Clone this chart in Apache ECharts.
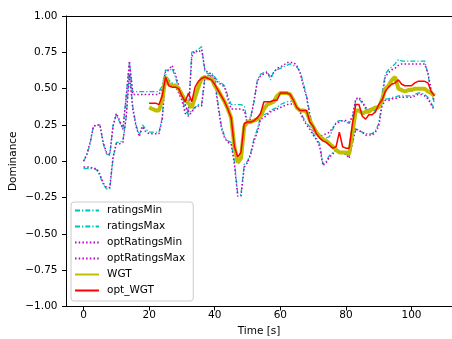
<!DOCTYPE html>
<html>
<head>
<meta charset="utf-8">
<script src="https://cdn.jsdelivr.net/npm/echarts@6.0.0/dist/echarts.min.js"></script>
<style>
  html, body { margin: 0; padding: 0; background: #fff; }
  #chart { width: 452px; height: 339px; }
</style>
</head>
<body>
<div id="chart"></div>
<script>
// one sample per second, 0..107 s
const time = Array.from({ length: 108 }, (_, i) => i);
const wgtStart = 20; // WGT / opt_WGT only start at 20 s

const ratingsMin = [
  -0.05, -0.05, -0.05, -0.05, -0.06, -0.10, -0.16, -0.19, -0.19, 0.02,
  0.13, 0.13, 0.14, 0.30, 0.62, 0.38, 0.25, 0.18, 0.25, 0.22,
  0.20, 0.20, 0.20, 0.20, 0.30, 0.60, 0.56, 0.54, 0.53, 0.48,
  0.44, 0.35, 0.32, 0.35, 0.37, 0.39, 0.39, 0.58, 0.59, 0.59,
  0.57, 0.40, 0.25, 0.17, 0.14, 0.13, 0.00, -0.22, -0.23, -0.02,
  0.00, 0.06, 0.16, 0.22, 0.31, 0.32, 0.33, 0.35, 0.36, 0.37,
  0.39, 0.40, 0.41, 0.41, 0.42, 0.38, 0.35, 0.30, 0.26, 0.24,
  0.19, 0.16, 0.12, -0.02, 0.00, 0.04, 0.06, 0.07, 0.06, 0.05,
  0.05, 0.03, 0.12, 0.23, 0.21, 0.20, 0.19, 0.19, 0.19, 0.21,
  0.26, 0.40, 0.43, 0.43, 0.44, 0.44, 0.45, 0.45, 0.45, 0.45,
  0.45, 0.46, 0.47, 0.47, 0.46, 0.44, 0.40, 0.36
];
const ratingsMax = [
  0.00, 0.04, 0.12, 0.24, 0.25, 0.25, 0.12, 0.05, 0.04, 0.25,
  0.32, 0.27, 0.22, 0.45, 0.68, 0.48, 0.48, 0.48, 0.48, 0.48,
  0.48, 0.48, 0.48, 0.48, 0.52, 0.63, 0.62, 0.64, 0.58, 0.50,
  0.46, 0.38, 0.34, 0.75, 0.76, 0.77, 0.79, 0.62, 0.60, 0.61,
  0.58, 0.55, 0.54, 0.52, 0.45, 0.39, 0.39, 0.39, 0.39, 0.38,
  0.27, 0.31, 0.41, 0.56, 0.60, 0.61, 0.62, 0.56, 0.62, 0.63,
  0.64, 0.65, 0.66, 0.67, 0.66, 0.65, 0.62, 0.54, 0.45, 0.33,
  0.22, 0.19, 0.17, 0.16, 0.16, 0.17, 0.22, 0.27, 0.28, 0.28,
  0.27, 0.26, 0.30, 0.42, 0.43, 0.40, 0.36, 0.35, 0.34, 0.35,
  0.38, 0.46, 0.60, 0.63, 0.65, 0.67, 0.70, 0.69, 0.69, 0.69,
  0.69, 0.69, 0.69, 0.69, 0.69, 0.60, 0.47, 0.40
];
const optRatingsMin = [
  -0.04, -0.04, -0.04, -0.05, -0.05, -0.09, -0.15, -0.18, -0.18, 0.03,
  0.12, 0.12, 0.13, 0.31, 0.60, 0.36, 0.24, 0.17, 0.24, 0.20,
  0.19, 0.19, 0.19, 0.19, 0.29, 0.58, 0.55, 0.53, 0.52, 0.47,
  0.42, 0.33, 0.31, 0.34, 0.37, 0.38, 0.38, 0.57, 0.58, 0.58,
  0.55, 0.38, 0.23, 0.16, 0.13, 0.12, -0.02, -0.24, -0.24, -0.04,
  -0.01, 0.05, 0.14, 0.20, 0.29, 0.30, 0.32, 0.34, 0.35, 0.36,
  0.37, 0.38, 0.39, 0.39, 0.40, 0.37, 0.34, 0.29, 0.25, 0.22,
  0.18, 0.15, 0.10, -0.03, -0.01, 0.03, 0.05, 0.08, 0.07, 0.06,
  0.05, 0.02, 0.13, 0.22, 0.21, 0.20, 0.18, 0.18, 0.18, 0.20,
  0.24, 0.38, 0.42, 0.42, 0.43, 0.43, 0.44, 0.44, 0.44, 0.44,
  0.44, 0.45, 0.46, 0.46, 0.45, 0.43, 0.39, 0.35
];
const optRatingsMax = [
  0.00, 0.05, 0.13, 0.24, 0.25, 0.25, 0.13, 0.06, 0.05, 0.24,
  0.33, 0.28, 0.22, 0.44, 0.69, 0.46, 0.46, 0.46, 0.46, 0.46,
  0.46, 0.46, 0.46, 0.46, 0.50, 0.62, 0.63, 0.66, 0.60, 0.52,
  0.47, 0.39, 0.33, 0.72, 0.76, 0.75, 0.77, 0.63, 0.61, 0.60,
  0.57, 0.54, 0.53, 0.51, 0.43, 0.36, 0.36, 0.36, 0.36, 0.35,
  0.25, 0.30, 0.42, 0.55, 0.59, 0.60, 0.61, 0.58, 0.61, 0.64,
  0.65, 0.66, 0.68, 0.68, 0.68, 0.66, 0.61, 0.52, 0.44, 0.31,
  0.21, 0.18, 0.17, 0.18, 0.19, 0.20, 0.23, 0.26, 0.27, 0.28,
  0.28, 0.27, 0.31, 0.43, 0.44, 0.41, 0.37, 0.36, 0.35, 0.36,
  0.37, 0.44, 0.58, 0.61, 0.63, 0.64, 0.66, 0.67, 0.67, 0.67,
  0.67, 0.67, 0.67, 0.67, 0.67, 0.61, 0.49, 0.41
];
// from 20 s on
const wgt = [
  0.37, 0.36, 0.35, 0.35, 0.42, 0.58, 0.53, 0.52, 0.52, 0.50,
  0.46, 0.42, 0.40, 0.37, 0.44, 0.51, 0.57, 0.58, 0.57, 0.57,
  0.52, 0.49, 0.45, 0.41, 0.36, 0.30, 0.10, -0.01, 0.02, 0.24,
  0.27, 0.27, 0.28, 0.29, 0.31, 0.36, 0.39, 0.40, 0.41, 0.45,
  0.47, 0.47, 0.47, 0.46, 0.42, 0.37, 0.35, 0.35, 0.34, 0.28,
  0.24, 0.20, 0.17, 0.15, 0.14, 0.12, 0.10, 0.08, 0.06, 0.06,
  0.06, 0.05, 0.20, 0.35, 0.35, 0.33, 0.34, 0.34, 0.36, 0.37,
  0.37, 0.42, 0.50, 0.52, 0.56, 0.58, 0.50, 0.49, 0.48, 0.49,
  0.49, 0.50, 0.50, 0.50, 0.50, 0.48, 0.47, 0.45
];
const optWgt = [
  0.40, 0.40, 0.40, 0.39, 0.45, 0.58, 0.52, 0.51, 0.51, 0.50,
  0.45, 0.41, 0.47, 0.41, 0.51, 0.55, 0.57, 0.58, 0.57, 0.56,
  0.53, 0.49, 0.45, 0.41, 0.36, 0.30, 0.10, 0.03, 0.06, 0.26,
  0.27, 0.27, 0.28, 0.30, 0.33, 0.41, 0.41, 0.41, 0.42, 0.42,
  0.47, 0.47, 0.47, 0.46, 0.42, 0.37, 0.35, 0.35, 0.35, 0.27,
  0.24, 0.19, 0.16, 0.14, 0.13, 0.11, 0.09, 0.10, 0.20, 0.10,
  0.09, 0.09, 0.26, 0.39, 0.39, 0.31, 0.29, 0.32, 0.32, 0.34,
  0.39, 0.42, 0.48, 0.51, 0.53, 0.54, 0.56, 0.53, 0.52, 0.52,
  0.52, 0.54, 0.55, 0.55, 0.55, 0.54, 0.48, 0.45
];
const xTicks = [0, 20, 40, 60, 80, 100];

function pairs(t, vals) {
  return vals.map((v, i) => [t[i], v]);
}

const font = 'DejaVu Sans';
let myChart = echarts.init(document.getElementById('chart'));
myChart.setOption({
  animation: false,
  textStyle: { fontFamily: font },
  grid: { left: 66, right: 0, top: 16, bottom: 32.5, containLabel: false, outerBoundsMode: 'none' },
  legend: {
    orient: 'vertical',
    left: 71,
    top: 202,
    padding: [3, 8, 5, 3],
    itemWidth: 24,
    itemHeight: 10,
    itemGap: 5,
    borderColor: '#cccccc',
    borderWidth: 1,
    borderRadius: 3,
    backgroundColor: 'rgba(255,255,255,0.8)',
    itemStyle: { opacity: 0 },
    textStyle: { fontFamily: font, fontSize: 10.5, color: '#000', padding: [0, 0, 0, 3] },
    data: ['ratingsMin', 'ratingsMax', 'optRatingsMin', 'optRatingsMax', 'WGT', 'opt_WGT'],
  },
  xAxis: [
    {
      type: 'value',
      min: -5.35,
      max: 112.35,
      name: 'Time [s]',
      nameLocation: 'middle',
      nameGap: 19,
      nameMoveOverlap: false,
      nameTextStyle: { fontFamily: font, fontSize: 10.5, color: '#000' },
      splitLine: { show: false },
      axisLine: { show: true, onZero: false, lineStyle: { color: '#000', width: 1 } },
      axisTick: { show: true, length: 4, customValues: xTicks, lineStyle: { color: '#000' } },
      axisLabel: { customValues: xTicks, fontFamily: font, fontSize: 10.5, color: '#000', margin: 3 },
    },
    {
      type: 'value',
      position: 'top',
      min: -5.35,
      max: 112.35,
      splitLine: { show: false },
      axisLine: { show: true, onZero: false, lineStyle: { color: '#000', width: 1 } },
      axisTick: { show: false },
      axisLabel: { show: false },
    },
  ],
  yAxis: {
    type: 'value',
    min: -1,
    max: 1,
    interval: 0.25,
    name: 'Dominance',
    nameLocation: 'middle',
    nameGap: 47,
    nameMoveOverlap: false,
    nameTextStyle: { fontFamily: font, fontSize: 10.5, color: '#000' },
    splitLine: { show: false },
    axisLine: { show: true, onZero: false, lineStyle: { color: '#000', width: 1 } },
    axisTick: { show: true, length: 4, lineStyle: { color: '#000' } },
    axisLabel: {
      fontFamily: font,
      fontSize: 10.5,
      color: '#000',
      margin: 8.5,
      formatter: (v) => v.toFixed(2).replace('-', '\u2212'),
    },
  },
  series: [
    {
      name: 'ratingsMin', type: 'line', symbol: 'none',
      lineStyle: { color: '#00bfbf', width: 1.3, type: [5, 2, 1.3, 2] },
      itemStyle: { color: '#00bfbf' },
      data: pairs(time, ratingsMin),
    },
    {
      name: 'ratingsMax', type: 'line', symbol: 'none',
      lineStyle: { color: '#00bfbf', width: 1.3, type: [5, 2, 1.3, 2] },
      itemStyle: { color: '#00bfbf' },
      data: pairs(time, ratingsMax),
    },
    {
      name: 'optRatingsMin', type: 'line', symbol: 'none',
      lineStyle: { color: '#bf00bf', width: 1.5, type: [1.5, 2.2] },
      itemStyle: { color: '#bf00bf' },
      data: pairs(time, optRatingsMin),
    },
    {
      name: 'optRatingsMax', type: 'line', symbol: 'none',
      lineStyle: { color: '#bf00bf', width: 1.5, type: [1.5, 2.2] },
      itemStyle: { color: '#bf00bf' },
      data: pairs(time, optRatingsMax),
    },
    {
      name: 'WGT', type: 'line', symbol: 'none',
      lineStyle: { color: '#bfbf00', width: 4 },
      itemStyle: { color: '#bfbf00' },
      data: pairs(time.slice(wgtStart), wgt),
    },
    {
      name: 'opt_WGT', type: 'line', symbol: 'none',
      lineStyle: { color: '#ff0000', width: 1.5 },
      itemStyle: { color: '#ff0000' },
      data: pairs(time.slice(wgtStart), optWgt),
    },
  ],
});
</script>
</body>
</html>
